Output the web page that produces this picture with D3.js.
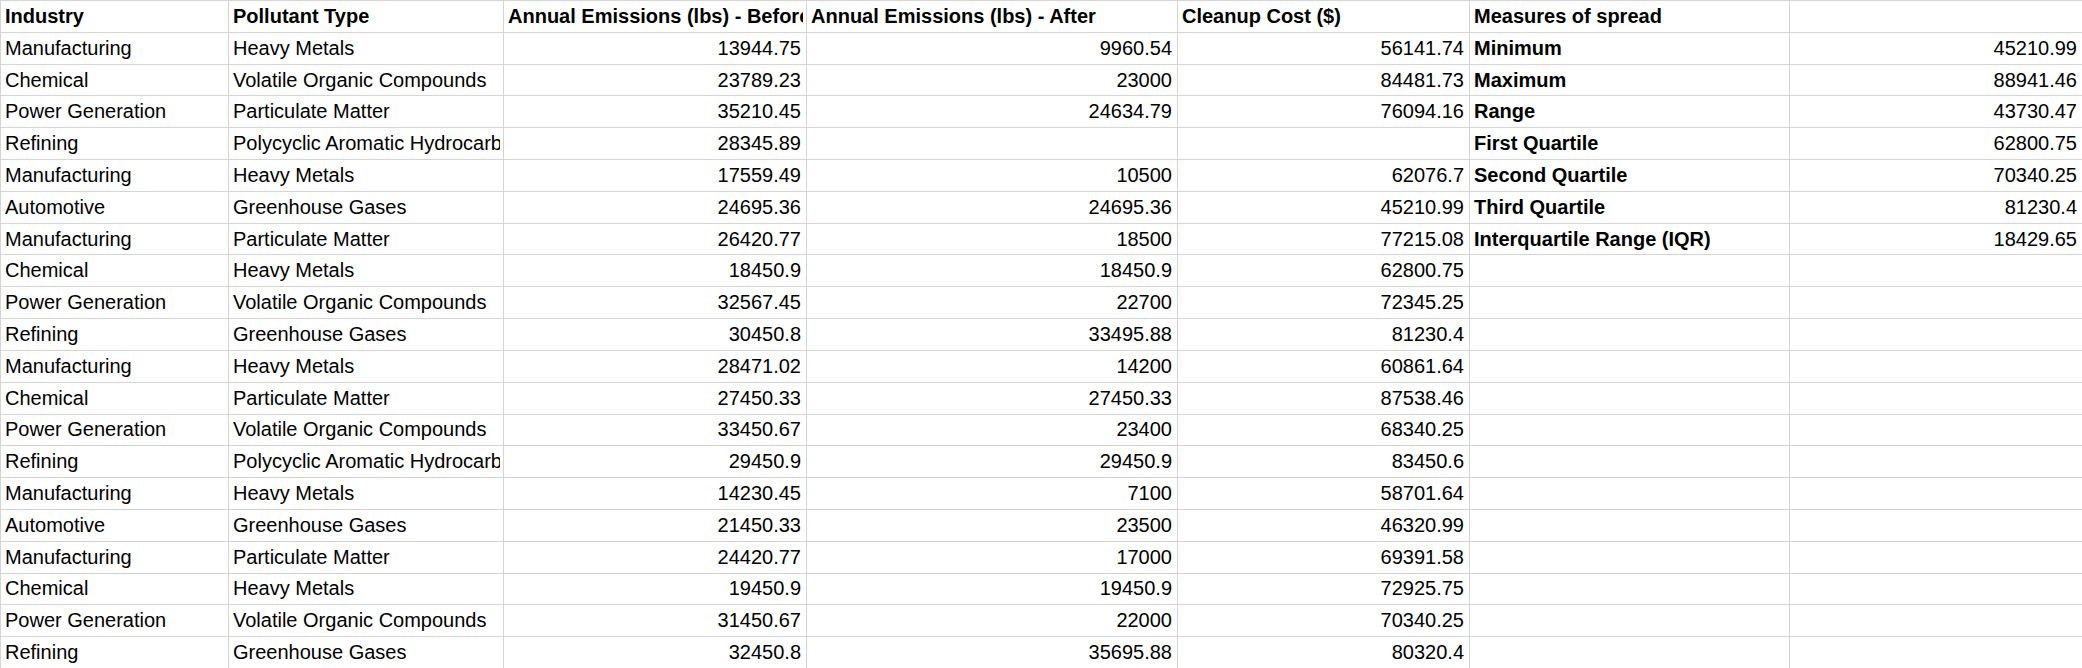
<!DOCTYPE html>
<html><head><meta charset="utf-8">
<script src="https://cdn.jsdelivr.net/npm/d3@7"></script>
<style>body{margin:0;background:#fff}svg{display:block}</style>
</head><body><svg id="s" width="2082" height="668"></svg>
<script>
const headers=["Industry","Pollutant Type","Annual Emissions (lbs) - Before","Annual Emissions (lbs) - After","Cleanup Cost ($)","Measures of spread",""];
const industries=["Manufacturing","Chemical","Power Generation","Refining","Manufacturing","Automotive","Manufacturing","Chemical","Power Generation","Refining","Manufacturing","Chemical","Power Generation","Refining","Manufacturing","Automotive","Manufacturing","Chemical","Power Generation","Refining"];
const pollutants=["Heavy Metals","Volatile Organic Compounds","Particulate Matter","Polycyclic Aromatic Hydrocarbons","Heavy Metals","Greenhouse Gases","Particulate Matter","Heavy Metals","Volatile Organic Compounds","Greenhouse Gases","Heavy Metals","Particulate Matter","Volatile Organic Compounds","Polycyclic Aromatic Hydrocarbons","Heavy Metals","Greenhouse Gases","Particulate Matter","Heavy Metals","Volatile Organic Compounds","Greenhouse Gases"];
const before=["13944.75","23789.23","35210.45","28345.89","17559.49","24695.36","26420.77","18450.9","32567.45","30450.8","28471.02","27450.33","33450.67","29450.9","14230.45","21450.33","24420.77","19450.9","31450.67","32450.8"];
const after=["9960.54","23000","24634.79","","10500","24695.36","18500","18450.9","22700","33495.88","14200","27450.33","23400","29450.9","7100","23500","17000","19450.9","22000","35695.88"];
const cost=["56141.74","84481.73","76094.16","","62076.7","45210.99","77215.08","62800.75","72345.25","81230.4","60861.64","87538.46","68340.25","83450.6","58701.64","46320.99","69391.58","72925.75","70340.25","80320.4"];
const measureLabels=["Minimum","Maximum","Range","First Quartile","Second Quartile","Third Quartile","Interquartile Range (IQR)"];
const measureValues=["45210.99","88941.46","43730.47","62800.75","70340.25","81230.4","18429.65"];

const colEdges=[0,228,503,806,1177,1469,1789,2082];
const nRows=industries.length+1;
const y=d3.scaleBand().domain(d3.range(nRows)).range([0,668]);
const svg=d3.select("#s");
const font="'Liberation Sans', Arial, sans-serif";
const defs=svg.append("defs");
colEdges.slice(0,-1).forEach((x0,i)=>{
  defs.append("clipPath").attr("id","c"+i).append("rect").attr("x",x0).attr("y",0).attr("width",colEdges[i+1]-x0-3).attr("height",668);
});
// grid
svg.selectAll(".h").data(d3.range(nRows+1)).join("line").attr("x1",0).attr("x2",2082)
 .attr("y1",d=>Math.round(y(d)??668)+0.5).attr("y2",d=>Math.round(y(d)??668)+0.5).attr("stroke","#d4d4d4");
svg.selectAll(".v").data(colEdges).join("line").attr("y1",0).attr("y2",668)
 .attr("x1",d=>d+0.5).attr("x2",d=>d+0.5).attr("stroke","#d4d4d4");

const cells=[];
headers.forEach((h,c)=>cells.push({r:0,c,t:h,b:true,right:false}));
industries.forEach((v,i)=>{
  const r=i+1;
  cells.push({r,c:0,t:v});
  cells.push({r,c:1,t:pollutants[i]});
  cells.push({r,c:2,t:before[i],right:true});
  cells.push({r,c:3,t:after[i],right:true});
  cells.push({r,c:4,t:cost[i],right:true});
  if(i<measureLabels.length){
    cells.push({r,c:5,t:measureLabels[i],b:true});
    cells.push({r,c:6,t:measureValues[i],right:true});
  }
});
svg.selectAll("text.cell").data(cells).join("text")
 .attr("clip-path",d=>`url(#c${d.c})`)
 .attr("x",d=>d.right?colEdges[d.c+1]-5:colEdges[d.c]+5)
 .attr("y",d=>y(d.r)+y.bandwidth()/2+7)
 .attr("text-anchor",d=>d.right?"end":"start")
 .attr("font-family",font).attr("font-size",20)
 .attr("font-weight",d=>d.b?"bold":"normal").attr("fill","#000")
 .text(d=>d.t);
</script></body></html>
